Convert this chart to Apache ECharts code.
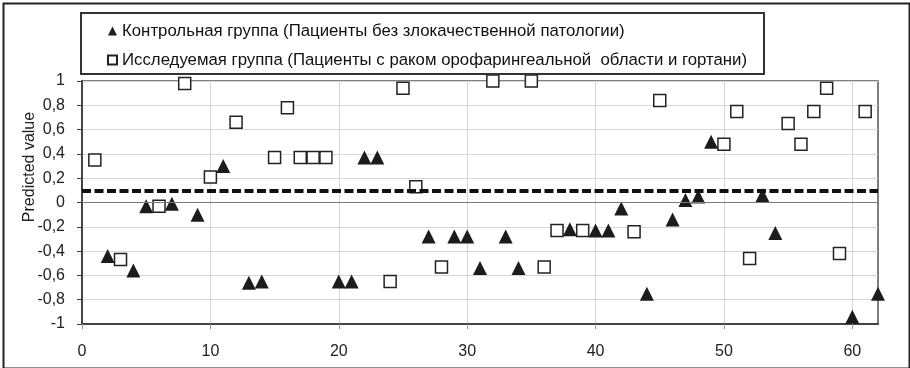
<!DOCTYPE html>
<html>
<head>
<meta charset="utf-8">
<script src="https://cdn.jsdelivr.net/npm/echarts@6/dist/echarts.min.js"></script>
<style>
html,body{margin:0;padding:0;background:#fff;}
#chart{width:910px;height:368px;}
</style>
</head>
<body>
<div id="chart"></div>
<script>
// ---- data ----
const controlName = 'Контрольная группа (Пациенты без злокачественной патологии)';
const studyName = 'Исследуемая группа (Пациенты с раком орофарингеальной  области и гортани)';
const controlX = [2,4,5,7,9,11,13,14,20,21,22,23,27,29,30,31,33,34,38,40,41,42,44,46,47,48,49,53,54,60,62];
const controlY = [-0.44,-0.56,-0.03,-0.01,-0.10,0.30,-0.66,-0.65,-0.65,-0.65,0.37,0.37,-0.28,-0.28,-0.28,-0.54,-0.28,-0.54,-0.22,-0.23,-0.23,-0.05,-0.75,-0.14,0.02,0.05,0.50,0.06,-0.25,-0.94,-0.75];
const studyX = [1,3,6,8,10,12,15,16,17,18,19,24,25,26,28,32,35,36,37,39,43,45,50,51,52,55,56,57,58,59,61];
const studyY = [0.35,-0.47,-0.03,0.98,0.21,0.66,0.37,0.78,0.37,0.37,0.37,-0.65,0.94,0.13,-0.53,1.0,1.0,-0.53,-0.23,-0.23,-0.24,0.84,0.48,0.75,-0.46,0.65,0.48,0.75,0.94,-0.42,0.75];
const xTicks = [0,10,20,30,40,50,60];
const threshold = 0.1;
const yTitle = 'Predicted value';

const FONT = '"Liberation Sans", Arial, sans-serif';
const chart = echarts.init(document.getElementById('chart'), null, {renderer:'canvas'});
const option = {
  animation: false,
  backgroundColor: '#fff',
  textStyle: {fontFamily: FONT},
  grid: {left: 82, right: 32, top: 81, bottom: 44, show: true, borderColor: '#555', borderWidth: 1.5, backgroundColor: 'transparent'},
  legend: {
    orient: 'vertical', left: 102, top: 17, padding: 5, itemWidth: 9, itemHeight: 9, itemGap: 11,
    textStyle: {fontSize: 16.8, color: '#111', lineHeight: 18, fontFamily: FONT},
    data: [{name: controlName, icon: 'triangle'}, {name: studyName, icon: 'rect'}]
  },
  xAxis: {
    type: 'value', min: 0, max: 62, interval: 10,
    axisLine: {show: true, onZero: false, lineStyle: {color: '#444', width: 2}},
    axisTick: {show: true, length: 5, customValues: xTicks, lineStyle: {color: '#999'}},
    axisLabel: {customValues: xTicks, fontSize: 16, color: '#222', margin: 20, fontFamily: FONT},
    splitLine: {show: true, lineStyle: {color: '#d6d6d6'}}
  },
  yAxis: {
    type: 'value', min: -1, max: 1, interval: 0.2,
    axisLine: {show: true, onZero: false, lineStyle: {color: '#444', width: 2}},
    axisTick: {show: true, length: 5, lineStyle: {color: '#444'}},
    axisLabel: {fontSize: 16, color: '#222', margin: 17, fontFamily: FONT,
      formatter: v => String(Math.round(v * 10) / 10).replace('.', ',')},
    splitLine: {show: true, lineStyle: {color: '#d6d6d6'}}
  },
  series: [
    {
      name: controlName, type: 'scatter', symbol: 'triangle', symbolSize: 14, clip: false,
      itemStyle: {color: '#1c1c1c', opacity: 1},
      data: controlX.map((x, i) => [x, controlY[i]]),
      markLine: {
        silent: true, symbol: 'none', label: {show: false}, animation: false,
        data: [
          {yAxis: 0, lineStyle: {color: '#7a7a7a', width: 1, type: 'solid'}},
          {yAxis: threshold, lineStyle: {color: '#111', width: 4, type: [9, 3.5]}}
        ]
      },
      z: 3
    },
    {
      name: studyName, type: 'scatter', symbol: 'rect', symbolSize: 12, clip: false,
      itemStyle: {color: '#fff', borderColor: '#222', borderWidth: 1.5, opacity: 1},
      data: studyX.map((x, i) => [x, studyY[i]]),
      z: 4
    }
  ],
  graphic: [
    {type: 'rect', left: 1, top: 1, z: 100, silent: true,
     shape: {x: 0, y: 0, width: 906, height: 365}, style: {fill: null, stroke: '#222', lineWidth: 2}},
    {type: 'rect', z: 100, silent: true,
     shape: {x: 81, y: 13, width: 683, height: 61}, style: {fill: null, stroke: '#333', lineWidth: 2}},
    {type: 'text', x: 30, y: 167, rotation: Math.PI / 2, silent: true,
     style: {text: yTitle, align: 'center', verticalAlign: 'middle', font: '16px ' + FONT, fill: '#222'}}
  ]
};
chart.setOption(option);
</script>
</body>
</html>
